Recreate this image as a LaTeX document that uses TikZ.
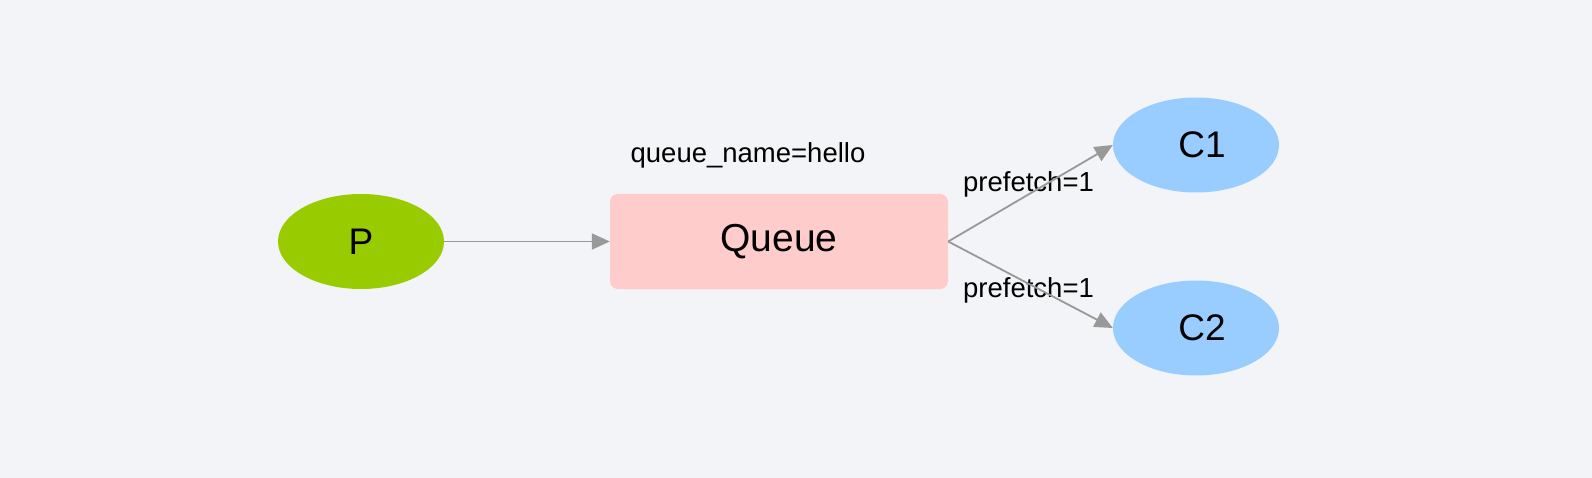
\documentclass[tikz,border=0pt]{standalone}
\usepackage{fontspec}
\setmainfont{Liberation Sans}
\usetikzlibrary{arrows.meta,shapes.geometric}
\definecolor{bgc}{HTML}{F2F4F7}
\definecolor{greenc}{HTML}{99CC00}
\definecolor{pinkc}{HTML}{FFCCCC}
\definecolor{bluec}{HTML}{99CCFF}
\definecolor{arrowc}{HTML}{999999}
\tikzset{
  ell/.style={ellipse, draw=none, inner sep=0pt, minimum width=166pt, minimum height=95pt, font=\fontsize{37}{42}\selectfont},
  qbox/.style={rectangle, rounded corners=8pt, fill=pinkc, inner sep=0pt, minimum width=338pt, minimum height=95pt, font=\fontsize{39}{44}\selectfont},
  lbl/.style={inner sep=0pt, anchor=base, font=\fontsize{27.5}{32}\selectfont},
  conn/.style={draw=arrowc, line width=1.8pt, -{Triangle[length=18pt,width=16pt]}}
}
\begin{document}
\begin{tikzpicture}[x=1pt,y=-1pt]
\useasboundingbox (0,0) rectangle (1592,478);
\fill[bgc] (0,0) rectangle (1592,478);
\node[ell, fill=greenc] (p) at (361,241.5) {\raisebox{-2pt}{P}};
\node[qbox] (q) at (779,241.5) {\raisebox{-3pt}{Queue}};
\node[ell, fill=bluec] (c1) at (1196,145) {\hspace*{12pt}C1};
\node[ell, fill=bluec] (c2) at (1196,328) {\hspace*{12pt}C2};
\node[lbl] (qn) at (748,163) {queue\_name=hello};
\node[lbl] (pf1) at (1028.5,192) {prefetch=1};
\node[lbl] (pf2) at (1028.5,298) {prefetch=1};
\draw[conn] (p.east) -- (q.west);
\draw[conn] (q.east) -- (c1.west);
\draw[conn] (q.east) -- (c2.west);
\end{tikzpicture}
\end{document}
